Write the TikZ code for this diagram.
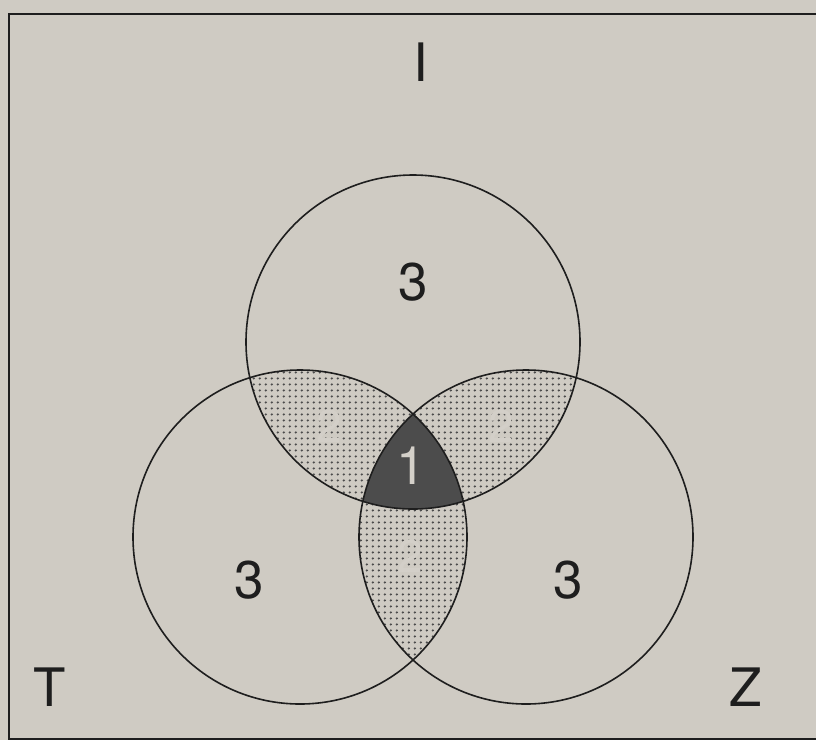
\documentclass[tikz,border=0pt]{standalone}
\usepackage{fontspec}
\setmainfont{TeX Gyre Heros}
\usetikzlibrary{patterns.meta}
\pgfdeclarepattern{name=bigdots, type=uncolored,
  bottom left={\pgfpoint{0pt}{0pt}}, top right={\pgfpoint{6.3pt}{6pt}},
  tile size={\pgfpoint{6.3pt}{6pt}},
  code={\pgfpathcircle{\pgfpoint{3.15pt}{3pt}}{1.4pt}\pgfusepath{fill}}}
\definecolor{paper}{HTML}{CFCBC3}
\definecolor{ink}{HTML}{1E1E1E}
\definecolor{darkfill}{HTML}{4C4C4C}
\tikzset{
  ring/.style={draw=ink, line width=1.6pt},
  frameline/.style={draw=ink, line width=2pt},
  lbl/.style={font=\fontsize{53}{53}\selectfont, text=ink, inner sep=0pt},
  hidden2/.style={font=\fontsize{46}{46}\selectfont, text=paper!92!white, inner sep=0pt},
}
\begin{document}
\begin{tikzpicture}[x=1pt,y=-1pt]
\useasboundingbox (0,0) rectangle (816,740);
\fill[paper] (0,0) rectangle (816,740);
\coordinate (ct) at (413,342);
\coordinate (cl) at (300,537);
\coordinate (cr) at (526,537);
% pairwise intersections (dotted)
\begin{scope}
  \clip (ct) circle[radius=167pt];
  \fill[pattern=bigdots, pattern color=ink!80] (cl) circle[radius=167pt];
  \fill[pattern=bigdots, pattern color=ink!80] (cr) circle[radius=167pt];
\end{scope}
\begin{scope}
  \clip (cl) circle[radius=167pt];
  \fill[pattern=bigdots, pattern color=ink!80] (cr) circle[radius=167pt];
\end{scope}
% faint 2s formed by gaps in the dots
\node[hidden2] (twoL) at (329,426) {2};
\node[hidden2] (twoR) at (501,426) {2};
\node[hidden2] (twoB) at (410,556) {2};
% triple intersection (dark)
\begin{scope}
  \clip (ct) circle[radius=167pt];
  \clip (cl) circle[radius=167pt];
  \fill[darkfill] (cr) circle[radius=167pt];
\end{scope}
% circles
\draw[ring] (ct) circle[radius=167pt];
\draw[ring] (cl) circle[radius=167pt];
\draw[ring] (cr) circle[radius=167pt];
% frame
\draw[frameline] (816,14) -- (9,14) -- (9,739) -- (816,739);
% labels
\node[lbl] (labI) at (421,62) {I};
\node[lbl] (labT) at (50,687) {T};
\node[lbl] (labZ) at (746,687) {Z};
\node[lbl] (threeT) at (413,282) {3};
\node[lbl] (threeL) at (249,580) {3};
\node[lbl] (threeR) at (568,580) {3};
\node[lbl, text=paper!90!white] (one) at (411,466) {1};
\end{tikzpicture}
\end{document}
